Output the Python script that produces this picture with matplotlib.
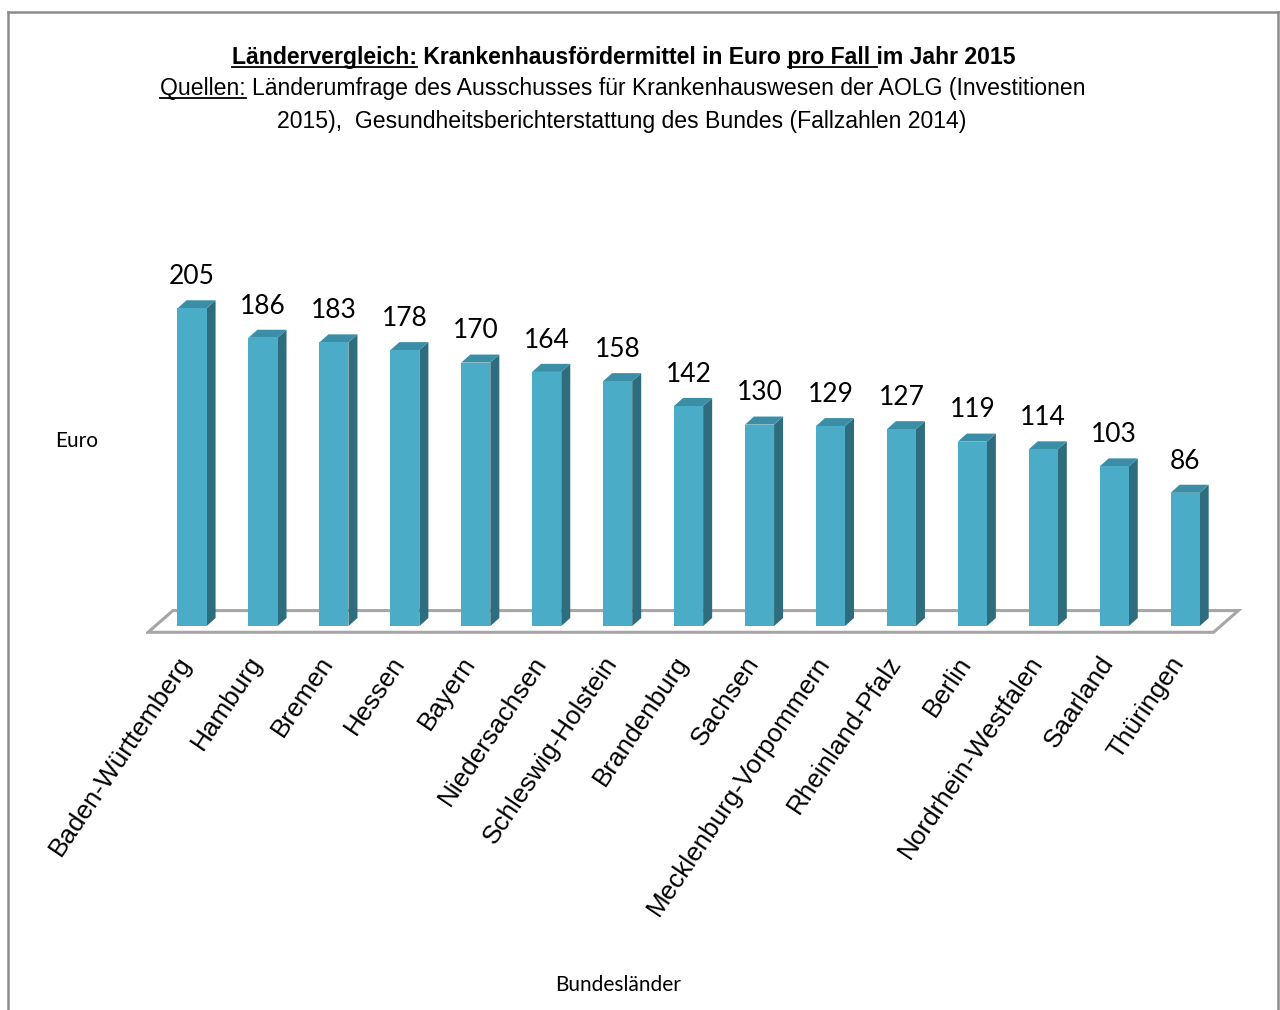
import matplotlib.pyplot as plt
from matplotlib.patches import Polygon
from matplotlib.lines import Line2D
from matplotlib.transforms import IdentityTransform

laender = ['Baden-Württemberg', 'Hamburg', 'Bremen', 'Hessen', 'Bayern',
           'Niedersachsen', 'Schleswig-Holstein', 'Brandenburg', 'Sachsen',
           'Mecklenburg-Vorpommern', 'Rheinland-Pfalz', 'Berlin',
           'Nordrhein-Westfalen', 'Saarland', 'Thüringen']
euro = [205, 186, 183, 178, 170, 164, 158, 142, 130, 129, 127, 119, 114, 103, 86]

title1 = 'Ländervergleich: Krankenhausfördermittel in Euro pro Fall im Jahr 2015'
title2 = 'Quellen: Länderumfrage des Ausschusses für Krankenhauswesen der AOLG (Investitionen'
title3 = '2015),  Gesundheitsberichterstattung des Bundes (Fallzahlen 2014)'

front = '#4aacc6'
side = '#2e6d7d'
top = '#3b8ea5'

W, H = 1280, 1010
fig = plt.figure(figsize=(W / 100, H / 100), dpi=100)
ax = fig.add_axes([0.114, 0.3663, 0.859, 0.3861])
ax.set_xlim(-0.65, 14.85)
ax.set_ylim(-9, 242.6)
ax.axis('off')

# floor of the 3d chart
ax.add_patch(Polygon([(-0.62, -4), (14.40, -4), (14.75, 10), (-0.27, 10)], closed=True,
                     fc='white', ec='#a6a6a6', lw=2.2, zorder=1))

w = 0.41
dx, dy = 0.127, 5.2
x = list(range(len(euro)))
ax.bar(x, euro, width=w, color=front, zorder=3)
for i, v in enumerate(euro):
    xr = i + w / 2
    ax.add_patch(Polygon([(xr, 0), (xr + dx, dy), (xr + dx, v + dy), (xr, v)],
                         fc=side, ec='none', zorder=2))
    ax.add_patch(Polygon([(i - w / 2, v), (xr, v), (xr + dx, v + dy), (i - w / 2 + dx, v + dy)],
                         fc=top, ec='none', zorder=2))
    ax.annotate(str(v), (i, v + dy), xytext=(0, 8), textcoords='offset points',
                ha='center', va='bottom', fontsize=19, family='Lato')
    ax.text(i - 0.08, -21, laender[i], rotation=56, rotation_mode='anchor',
            ha='right', va='center', fontsize=18.8, family=['Liberation Sans', 'DejaVu Sans'])

ident = IdentityTransform()
fig.text(77 / W, 1 - 441 / H, 'Euro', ha='center', va='center', fontsize=15, family='Lato')
fig.text(618 / W, 1 - 985 / H, 'Bundesländer', ha='center', va='center', fontsize=15, family='Lato')

# title with underlined parts
renderer = fig.canvas.get_renderer()


def text_width(s, **kw):
    t = fig.text(0, 0, s, **kw)
    wd = t.get_window_extent(renderer).width
    t.remove()
    return wd


def title_line(s, cx, base, parts, **kw):
    t = fig.text(cx / W, 1 - base / H, s, ha='center', va='baseline', **kw)
    bb = t.get_window_extent(renderer)
    ref = text_width('x', **kw)
    for p in parts:
        a = s.index(p)
        x0 = bb.x0 + (text_width(s[:a] + 'x', **kw) - ref if a > 0 else 0)
        x1 = bb.x0 + text_width(s[:a + len(p)] + 'x', **kw) - ref
        y = H - base - 3
        fig.add_artist(Line2D([x0, x1], [y, y], transform=ident, color='black', lw=1.3))


title_line(title1, 624, 64, ['Ländervergleich:', 'pro Fall '], fontsize=16.6,
           fontweight='bold', family='Liberation Sans')
title_line(title2, 623, 95, ['Quellen:'], fontsize=16.6, family='Liberation Sans')
title_line(title3, 622, 128, [], fontsize=16.6, family='Liberation Sans')

# chart frame
for xs, ys in [([8, 8], [0, H - 12]), ([8, 1278], [H - 12, H - 12]), ([1278, 1278], [H - 12, 0])]:
    fig.add_artist(Line2D(xs, ys, transform=ident, color='#8c8c8c', lw=1.8))

fig.savefig('out.png', dpi=100)
